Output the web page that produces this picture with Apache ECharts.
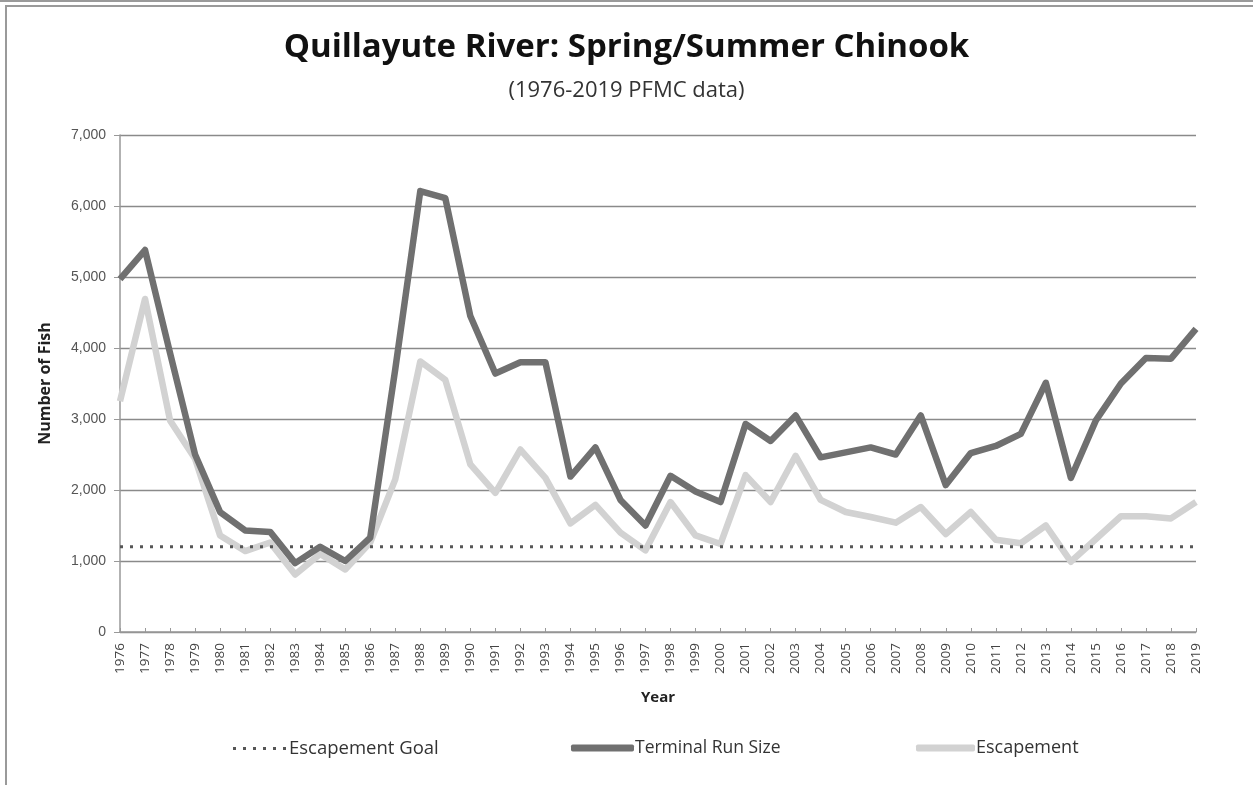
<!DOCTYPE html>
<html>
<head>
<meta charset="utf-8">
<script src="https://cdn.jsdelivr.net/npm/echarts@6/dist/echarts.min.js"></script>
<style>
html,body{margin:0;padding:0;background:#fff;}
#chart{width:1253px;height:785px;}
</style>
</head>
<body>
<div id="chart"></div>
<script>
const years = ['1976','1977','1978','1979','1980','1981','1982','1983','1984','1985','1986','1987','1988','1989','1990','1991','1992','1993','1994','1995','1996','1997','1998','1999','2000','2001','2002','2003','2004','2005','2006','2007','2008','2009','2010','2011','2012','2013','2014','2015','2016','2017','2018','2019'];
const terminalRunSize = [4970,5380,3930,2500,1690,1430,1410,970,1200,1000,1330,3700,6210,6110,4450,3640,3800,3800,2190,2600,1860,1500,2200,1980,1830,2930,2690,3050,2460,2530,2600,2500,3050,2070,2520,2620,2790,3510,2170,2980,3500,3860,3850,4270];
const escapement = [3250,4690,2980,2440,1360,1140,1260,810,1100,880,1260,2150,3810,3550,2360,1960,2570,2170,1530,1790,1400,1150,1830,1360,1240,2210,1830,2480,1860,1690,1620,1540,1760,1380,1690,1300,1250,1500,990,1310,1630,1630,1600,1830];
const escapementGoal = years.map(() => 1200);
const yTicks = [0,1000,2000,3000,4000,5000,6000,7000];

const chart = echarts.init(document.getElementById('chart'));
const font = "'Open Sans', 'Liberation Sans', sans-serif";
const dotsIcon = 'path://M0,0h3v3h-3z M10,0h3v3h-3z M20,0h3v3h-3z M30,0h3v3h-3z M40,0h3v3h-3z M50,0h3v3h-3z';
chart.setOption({
  animation: false,
  backgroundColor: '#fff',
  textStyle: {fontFamily: font},
  title: [
    {text: 'Quillayute River: Spring/Summer Chinook', left: 'center', top: 26,
     textStyle: {fontSize: 33, fontWeight: 'bold', color: '#111', fontFamily: font}},
    {text: '(1976-2019 PFMC data)', left: 'center', top: 75,
     textStyle: {fontSize: 22, fontWeight: 'normal', color: '#333', fontFamily: font}}
  ],
  graphic: [
    {type: 'line', shape: {x1: 0, y1: 1, x2: 1253, y2: 1}, style: {stroke: '#9a9a9a', lineWidth: 2}},
    {type: 'line', shape: {x1: 5, y1: 6, x2: 1253, y2: 6}, style: {stroke: '#9a9a9a', lineWidth: 2}},
    {type: 'line', shape: {x1: 6, y1: 6, x2: 6, y2: 785}, style: {stroke: '#9a9a9a', lineWidth: 2}}
  ],
  legend: [
    {data: [{name: 'Escapement Goal', icon: dotsIcon}], left: 228, top: 734, itemWidth: 53, itemHeight: 3, itemGap: 0,
     textStyle: {fontSize: 18.5, color: '#333', padding: [0,0,0,-2]}},
    {data: [{name: 'Terminal Run Size', icon: 'roundRect'}], left: 566, top: 734, itemWidth: 63, itemHeight: 7,
     textStyle: {fontSize: 17.5, color: '#333', padding: [0,0,0,-4]}},
    {data: [{name: 'Escapement', icon: 'roundRect'}], left: 911, top: 734, itemWidth: 59, itemHeight: 7,
     textStyle: {fontSize: 18, color: '#333', padding: [0,0,0,-4]}}
  ],
  grid: {left: 120, right: 57, top: 135, bottom: 153, containLabel: false},
  xAxis: {
    type: 'category', data: years, boundaryGap: false,
    name: 'Year', nameLocation: 'middle', nameGap: 58,
    nameTextStyle: {fontSize: 15, fontWeight: 'bold', color: '#222'},
    axisLine: {lineStyle: {color: '#999', width: 1.5}},
    axisTick: {show: true, interval: 0, length: 4, inside: true, lineStyle: {color: '#999'}},
    axisLabel: {interval: 0, rotate: 90, fontSize: 13.5, color: '#444', margin: 11}
  },
  yAxis: {
    type: 'value', min: 0, max: 7000, interval: 1000,
    name: 'Number of Fish', nameLocation: 'middle', nameGap: 67, nameRotate: 90,
    nameTextStyle: {fontSize: 16, fontWeight: 'bold', color: '#222'},
    axisLine: {show: true, lineStyle: {color: '#999', width: 1.5}},
    axisTick: {show: true, length: 6, inside: false, lineStyle: {color: '#999'}},
    splitLine: {lineStyle: {color: '#8a8a8a', width: 1.3}},
    axisLabel: {fontSize: 14, color: '#555', margin: 14, fontFamily: "'Liberation Sans', sans-serif",
      formatter: v => yTicks.includes(v) ? v.toLocaleString('en-US') : ''}
  },
  series: [
    {name: 'Escapement Goal', type: 'line', data: escapementGoal, symbol: 'none', z: 3,
     lineStyle: {color: '#555', width: 3, type: [3, 7]}, itemStyle: {color: '#555'}},
    {name: 'Escapement', type: 'line', data: escapement, symbol: 'none', z: 2,
     lineStyle: {color: '#d2d2d2', width: 6.5, join: 'round'}, itemStyle: {color: '#d2d2d2'}},
    {name: 'Terminal Run Size', type: 'line', data: terminalRunSize, symbol: 'none', z: 4,
     lineStyle: {color: '#707070', width: 6.5, join: 'round'}, itemStyle: {color: '#707070'}}
  ]
});
</script>
</body>
</html>
